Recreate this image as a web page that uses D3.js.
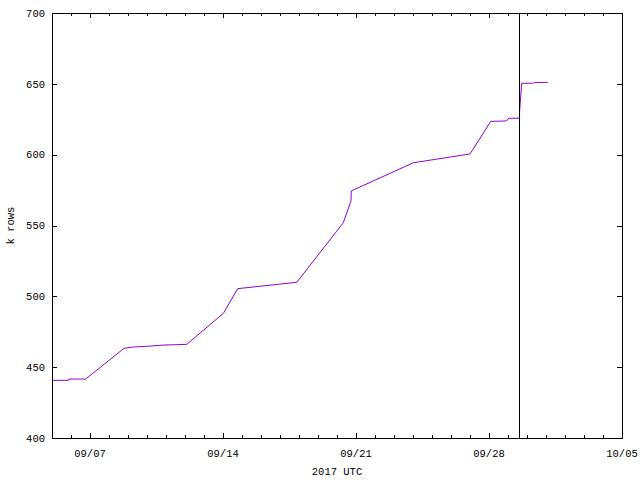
<!DOCTYPE html>
<html>
<head>
<meta charset="utf-8">
<script src="https://cdn.jsdelivr.net/npm/d3@7"></script>
<style>
  body { margin: 0; background: #fff; }
  svg text { font-family: "Liberation Mono", "DejaVu Sans Mono", monospace; font-size: 10.5px; fill: #000; }
</style>
</head>
<body>
<svg width="640" height="480"></svg>
<script>
// row count over time (k rows)
const times = [
  "2017-09-05 00:00", "2017-09-05 21:20", "2017-09-05 21:40", "2017-09-06 18:30",
  "2017-09-08 19:00", "2017-09-09 05:30", "2017-09-10 01:40", "2017-09-10 20:40",
  "2017-09-12 02:10", "2017-09-14 00:30", "2017-09-14 18:30", "2017-09-17 21:10",
  "2017-09-20 08:00", "2017-09-20 17:45", "2017-09-20 18:00", "2017-09-24 00:30",
  "2017-09-27 00:00", "2017-09-28 02:10", "2017-09-28 22:20", "2017-09-29 00:45",
  "2017-09-29 14:20", "2017-09-29 14:50", "2017-09-29 17:15", "2017-09-30 08:00",
  "2017-09-30 09:00", "2017-10-01 02:10"
];
const kRows = [
  440.7, 440.7, 441.6, 441.6,
  463.3, 464.2, 464.8, 465.6,
  466.1, 488.0, 505.4, 509.9,
  552.0, 567.5, 574.4, 594.3,
  600.5, 623.5, 623.8, 625.7,
  625.7, 632.0, 650.4, 650.4,
  651.0, 651.0
];
const markerTime = "2017-09-29 14:00";
const xMajorTicks = ["2017-09-07", "2017-09-14", "2017-09-21", "2017-09-28", "2017-10-05"];
const yTicks = [400, 450, 500, 550, 600, 650, 700];
const xDomain = ["2017-09-05", "2017-10-05"];

const margins = {t: 13, r: 18, b: 42, l: 52};
const size = {w: 640 - margins.l - margins.r, h: 480 - margins.t - margins.b};

const parseT = d3.utcParse("%Y-%m-%d %H:%M");
const parseD = d3.utcParse("%Y-%m-%d");
const data = times.map((t, i) => ({t: parseT(t), v: kRows[i]}));

const svg = d3.select("svg");
const g = svg.append("g").attr("transform", `translate(${margins.l}, ${margins.t})`);

const scaleX = d3.scaleUtc().domain(xDomain.map(parseD)).range([0, size.w]);
const scaleY = d3.scaleLinear().domain([400, 700]).range([size.h, 0]);

const majors = xMajorTicks.map(parseD);
const minors = d3.utcDay.range(scaleX.domain()[0], scaleX.domain()[1])
  .filter(d => !majors.some(m => +m === +d) && +d !== +scaleX.domain()[0]);

const ticksG = g.append("g").attr("stroke", "#000").attr("shape-rendering", "crispEdges");

// x ticks, mirrored on top
minors.forEach(d => {
  const x = Math.round(scaleX(d)) + 0.5;
  ticksG.append("line").attr("x1", x).attr("x2", x).attr("y1", size.h).attr("y2", size.h - 3);
  ticksG.append("line").attr("x1", x).attr("x2", x).attr("y1", 0).attr("y2", 3);
});
majors.forEach(d => {
  const x = Math.round(scaleX(d)) + 0.5;
  ticksG.append("line").attr("x1", x).attr("x2", x).attr("y1", size.h).attr("y2", size.h - 5);
  ticksG.append("line").attr("x1", x).attr("x2", x).attr("y1", 0).attr("y2", 5);
});
// y ticks, mirrored on right
yTicks.forEach(v => {
  const y = Math.round(scaleY(v)) + 0.5;
  ticksG.append("line").attr("x1", 0).attr("x2", 5).attr("y1", y).attr("y2", y);
  ticksG.append("line").attr("x1", size.w).attr("x2", size.w - 5).attr("y1", y).attr("y2", y);
});

// tick labels
g.selectAll("text.ylab").data(yTicks).enter().append("text")
  .attr("class", "ylab")
  .attr("x", -7)
  .attr("y", d => scaleY(d))
  .attr("dy", "0.35em")
  .attr("text-anchor", "end")
  .text(d => d);

const fmt = d3.utcFormat("%m/%d");
g.selectAll("text.xlab").data(majors).enter().append("text")
  .attr("class", "xlab")
  .attr("x", d => scaleX(d))
  .attr("y", size.h + 15)
  .attr("dy", "0.35em")
  .attr("text-anchor", "middle")
  .text(d => fmt(d));

// the data line
const line = d3.line().x(d => scaleX(d.t)).y(d => scaleY(d.v));
g.append("path")
  .datum(data)
  .attr("fill", "none")
  .attr("stroke", "#9400d3")
  .attr("stroke-width", 1)
  .attr("d", line);

// vertical marker
const mx = Math.round(scaleX(parseT(markerTime))) + 0.5;
g.append("line")
  .attr("x1", mx).attr("x2", mx)
  .attr("y1", 0).attr("y2", size.h)
  .attr("stroke", "#000")
  .attr("shape-rendering", "crispEdges");

// border
g.append("rect")
  .attr("x", 0.5).attr("y", 0.5)
  .attr("width", size.w).attr("height", size.h)
  .attr("fill", "none").attr("stroke", "#000")
  .attr("shape-rendering", "crispEdges");

// axis titles
svg.append("text")
  .attr("x", margins.l + size.w / 2)
  .attr("y", 471)
  .attr("dy", "0.35em")
  .attr("text-anchor", "middle")
  .text("2017 UTC");

svg.append("text")
  .attr("transform", `translate(10, ${margins.t + size.h / 2}) rotate(-90)`)
  .attr("dy", "0.35em")
  .attr("text-anchor", "middle")
  .text("k rows");
</script>
</body>
</html>
